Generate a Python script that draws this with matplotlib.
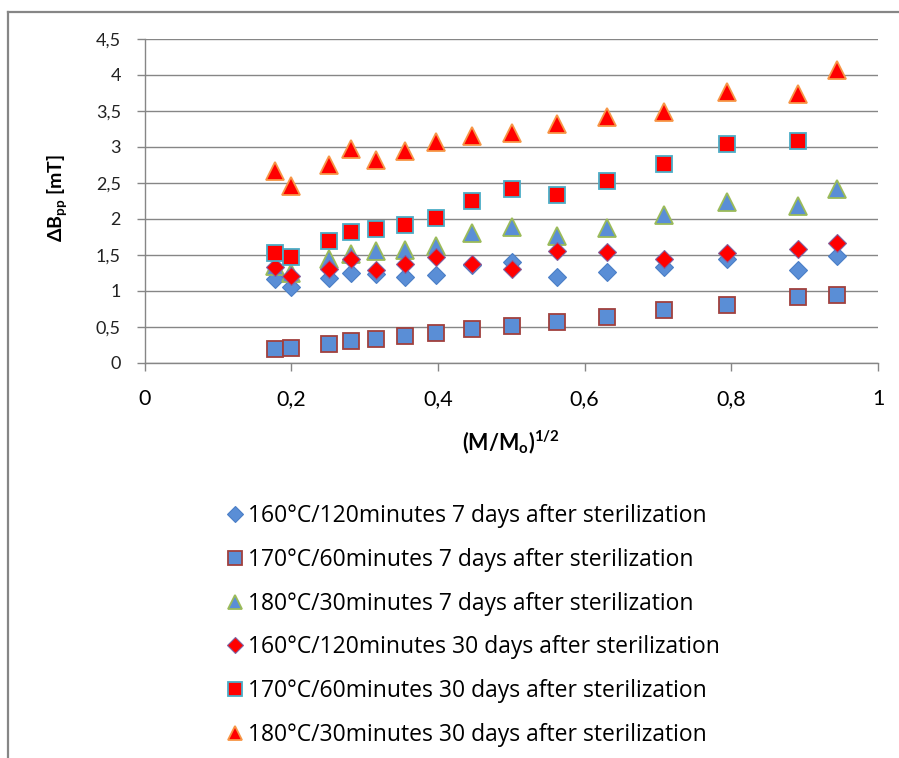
import matplotlib
matplotlib.use('Agg')
import matplotlib.pyplot as plt
import numpy as np
from matplotlib.ticker import FuncFormatter, MultipleLocator
from matplotlib.lines import Line2D

plt.rcParams['font.family'] = ['Lato', 'DejaVu Sans']
plt.rcParams['mathtext.fontset'] = 'custom'
plt.rcParams['mathtext.rm'] = 'Lato'
plt.rcParams['mathtext.bf'] = 'Lato:bold'

# ---- data ----
x = [0.178, 0.200, 0.251, 0.282, 0.316, 0.355, 0.398, 0.447, 0.501, 0.562,
     0.631, 0.708, 0.794, 0.891, 0.944]
d160_7 = [1.16, 1.06, 1.18, 1.25, 1.24, 1.20, 1.22, 1.36, 1.40, 1.20, 1.26, 1.34, 1.45, 1.29, 1.48]
s170_7 = [0.19, 0.21, 0.26, 0.30, 0.33, 0.375, 0.42, 0.47, 0.51, 0.57, 0.64, 0.73, 0.81, 0.91, 0.94]
t180_7 = [1.35, 1.25, 1.45, 1.52, 1.55, 1.57, 1.62, 1.80, 1.89, 1.76, 1.88, 2.06, 2.24, 2.18, 2.42]
d160_30 = [1.33, 1.21, 1.31, 1.45, 1.29, 1.38, 1.47, 1.38, 1.31, 1.56, 1.54, 1.44, 1.53, 1.58, 1.67]
s170_30 = [1.53, 1.47, 1.70, 1.82, 1.86, 1.92, 2.02, 2.25, 2.41, 2.33, 2.53, 2.77, 3.04, 3.08, np.nan]
t180_30 = [2.66, 2.46, 2.75, 2.97, 2.82, 2.95, 3.07, 3.15, 3.20, 3.32, 3.41, 3.48, 3.76, 3.74, 4.07]

labels = ["160°C/120minutes 7 days after sterilization",
          "170°C/60minutes 7 days after sterilization",
          "180°C/30minutes 7 days after sterilization",
          "160°C/120minutes 30 days after sterilization",
          "170°C/60minutes 30 days after sterilization",
          "180°C/30minutes 30 days after sterilization"]

BLUE = '#5A8ED6'
RED = '#FF0000'
styles = [
    dict(marker='D', ms=9.0, mfc=BLUE, mec='#4A7EC6', mew=0.8),
    dict(marker='s', ms=12.0, mfc=BLUE, mec='#A0403E', mew=1.3),
    dict(marker='^', ms=12.5, mfc=BLUE, mec='#9BBB59', mew=1.3),
    dict(marker='D', ms=9.0, mfc=RED, mec='#8064A2', mew=0.8),
    dict(marker='s', ms=12.0, mfc=RED, mec='#4BACC6', mew=1.3),
    dict(marker='^', ms=12.5, mfc=RED, mec='#F79646', mew=1.3),
]
series = [d160_7, s170_7, t180_7, d160_30, s170_30, t180_30]

W, H = 899, 758
fig = plt.figure(figsize=(W / 100, H / 100), dpi=100)

# figure border (only top and left visible)
fig.add_artist(Line2D([8 / W, 1.0], [1 - 12 / H, 1 - 12 / H], transform=fig.transFigure,
                      color='#868686', lw=1.6))
fig.add_artist(Line2D([8 / W, 8 / W], [1 - 12 / H, 0.0], transform=fig.transFigure,
                      color='#868686', lw=1.6))

left, right = 144.6, 878.0
top, bottom = 39.0, 363.0
ax = fig.add_axes([left / W, 1 - bottom / H, (right - left) / W, (bottom - top) / H])

handles = []
for ys, st, lab in zip(series, styles, labels):
    h, = ax.plot(x, ys, linestyle='none', label=lab, **st)
    handles.append(h)

ax.set_xlim(0, 1)
ax.set_ylim(0, 4.5)
ax.xaxis.set_major_locator(MultipleLocator(0.2))
ax.yaxis.set_major_locator(MultipleLocator(0.5))
fmt = FuncFormatter(lambda v, p: f"{v:g}".replace('.', ','))
ax.xaxis.set_major_formatter(fmt)
ax.yaxis.set_major_formatter(fmt)

ax.grid(axis='y', color='#868686', lw=1.0)
ax.set_axisbelow(True)
for s in ['top', 'right']:
    ax.spines[s].set_visible(False)
for s in ['left', 'bottom']:
    ax.spines[s].set_color('#868686')
    ax.spines[s].set_linewidth(1.0)
ax.tick_params(axis='both', direction='out', length=6, width=1.0, color='#868686')
ax.tick_params(axis='y', labelsize=13, pad=11, labelcolor='#222222')
ax.tick_params(axis='x', labelsize=15.5, pad=13)

fig.text(511 / W, 1 - 442 / H, r'(M/M$_{\mathbf{o}}$)$^{\mathbf{1/2}}$', ha='center', va='center',
         fontsize=15.5, fontweight='bold')
fig.text(58 / W, 1 - 198 / H, r'ΔB$_{\mathbf{pp}}$ [mT]', ha='center', va='center',
         rotation=90, fontsize=14, fontweight='bold')

leg = fig.legend(handles=handles, loc='upper left', bbox_to_anchor=(225 / W, 1 - 504 / H),
                 frameon=False, labelspacing=0.865, handlelength=0.9,
                 handletextpad=0.1, markerscale=0.85, borderaxespad=0, borderpad=0,
                 prop={'family': ['Open Sans', 'DejaVu Sans'], 'size': 16.5})

fig.savefig('out.png', dpi=100)
